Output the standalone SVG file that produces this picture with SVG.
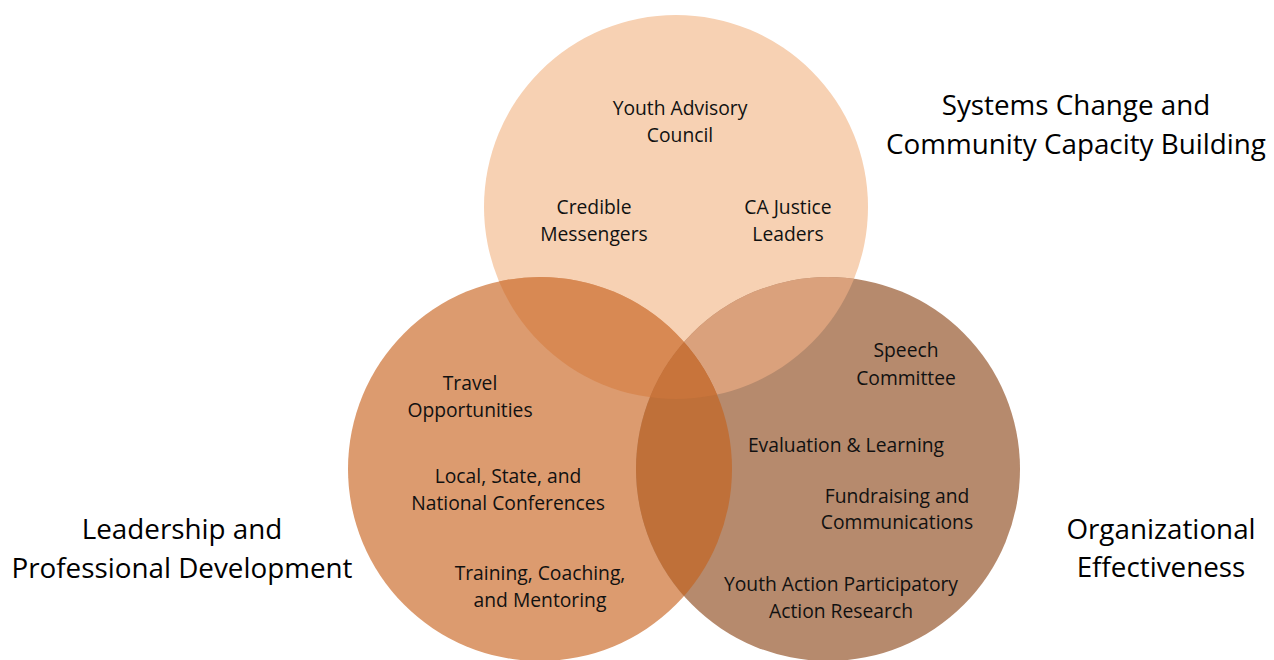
<svg xmlns="http://www.w3.org/2000/svg" width="1274" height="660" viewBox="0 0 1274 660">
<style>
.t{font-family:"Open Sans","Noto Sans",sans-serif;font-size:19.3px;fill:#111;text-anchor:middle}
.h{font-family:"Open Sans","Noto Sans",sans-serif;font-size:27.8px;fill:#000;text-anchor:middle}
</style>
<defs>
<clipPath id="cT"><circle cx="676" cy="207" r="192"/></clipPath>
<clipPath id="cL"><circle cx="540" cy="469" r="192"/></clipPath>
<clipPath id="cR"><circle cx="828" cy="469" r="192"/></clipPath>
</defs>
<rect width="1274" height="660" fill="#fff"/>
<g id="circles">
<circle cx="676" cy="207" r="192" fill="#F7D1B3"/>
<circle cx="540" cy="469" r="192" fill="#DC9B6F"/>
<circle cx="828" cy="469" r="192" fill="#B68A6D"/>
<g clip-path="url(#cT)"><circle cx="540" cy="469" r="192" fill="#D88953"/><circle cx="828" cy="469" r="192" fill="#DAA17C"/></g>
<g clip-path="url(#cL)"><circle cx="828" cy="469" r="192" fill="#BF7039"/></g>
<g clip-path="url(#cT)"><g clip-path="url(#cL)"><circle cx="828" cy="469" r="192" fill="#C8743B"/></g></g>
</g>
<g id="top-items">
<text class="t" x="680" y="115">Youth Advisory</text>
<text class="t" x="680" y="142">Council</text>
<text class="t" x="594" y="214">Credible</text>
<text class="t" x="594" y="241">Messengers</text>
<text class="t" x="788" y="214">CA Justice</text>
<text class="t" x="788" y="241">Leaders</text>
</g>
<g id="left-items">
<text class="t" x="470" y="390">Travel</text>
<text class="t" x="470" y="417">Opportunities</text>
<text class="t" x="508" y="483">Local, State, and</text>
<text class="t" x="508" y="510">National Conferences</text>
<text class="t" x="540" y="580">Training, Coaching,</text>
<text class="t" x="540" y="607">and Mentoring</text>
</g>
<g id="right-items">
<text class="t" x="906" y="357">Speech</text>
<text class="t" x="906" y="385">Committee</text>
<text class="t" x="846" y="452">Evaluation &amp; Learning</text>
<text class="t" x="897" y="503">Fundraising and</text>
<text class="t" x="897" y="529">Communications</text>
<text class="t" x="841" y="591">Youth Action Participatory</text>
<text class="t" x="841" y="618">Action Research</text>
</g>
<g id="labels">
<text class="h" x="1076" y="115">Systems Change and</text>
<text class="h" x="1076" y="154">Community Capacity Building</text>
<text class="h" x="182" y="539">Leadership and</text>
<text class="h" x="182" y="578">Professional Development</text>
<text class="h" x="1161" y="539">Organizational</text>
<text class="h" x="1161" y="577">Effectiveness</text>
</g>
</svg>
